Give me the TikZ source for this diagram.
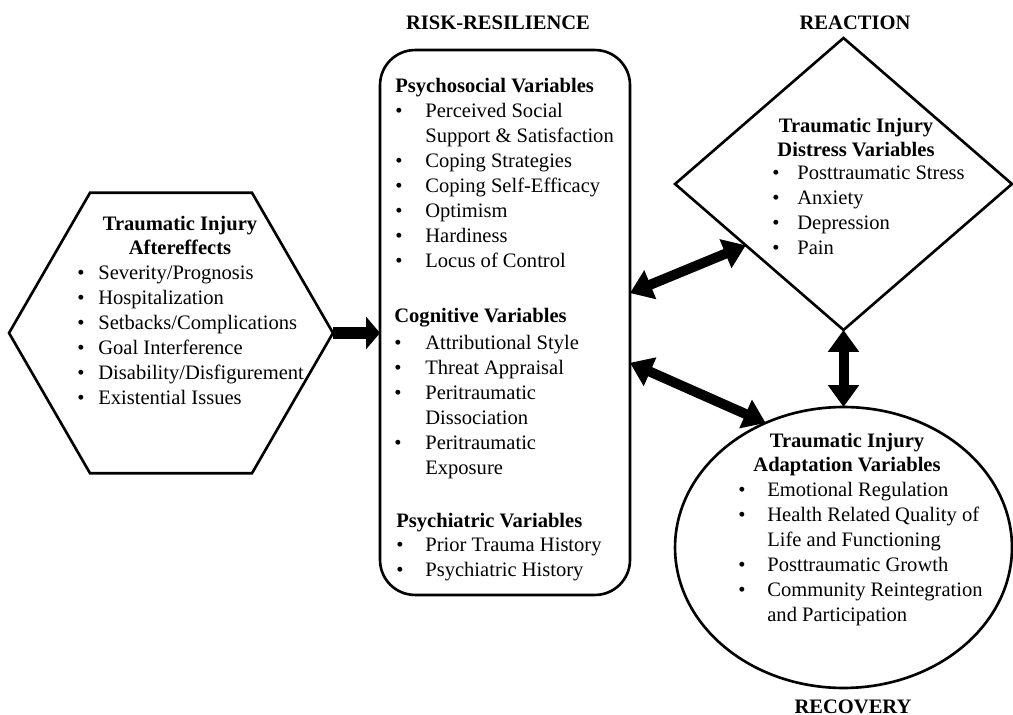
\documentclass[tikz,border=0pt]{standalone}
\usepackage{fontspec}
\setmainfont{Liberation Serif}
\usetikzlibrary{arrows.meta}
\usetikzlibrary{shapes,positioning,calc}
\tikzset{>={Triangle[length=0.44cm,width=0.6cm]}}
\tikzset{
  shp/.style={draw,line width=1.5pt,inner sep=0pt,outer sep=0pt},
  txt/.style={inner sep=0pt,font=\fontsize{11.7}{14.2}\selectfont},
  hdr/.style={inner sep=0pt,font=\fontsize{11.7}{14.2}\selectfont\bfseries,align=center},
  bigarrow/.style={<->,line width=0.2cm}
}
\newcommand{\blist}[2]{\begin{tabular}[t]{@{}p{#1}@{}l@{}}#2\end{tabular}}
\newcommand{\hd}[1]{\multicolumn{2}{@{}l@{}}{\bfseries #1}}

\begin{document}
\begin{tikzpicture}[x=0.02cm,y=-0.02cm]
    \useasboundingbox (0,0) rectangle (1013,715);
    % shapes
    \node[shp,regular polygon,regular polygon sides=6,minimum size=6.48cm] (hex) at (171,333) {};
    \node[shp,rectangle,rounded corners=0.7cm,minimum width=5cm,minimum height=10.9cm] (risk) at (505,322.5) {};
    \node[shp,diamond,minimum width=6.74cm,minimum height=5.84cm] (distress) at (843.5,184) {};
    \node[shp,ellipse,minimum width=6.74cm,minimum height=5.62cm] (adapt) at (843.5,547.5) {};
    % titles
    \node[hdr,anchor=base] (riskttl) at (498,30) {RISK-RESILIENCE};
    \node[hdr,anchor=base] (reactttl) at (855,30) {REACTION};
    \node[hdr,anchor=base] (recovttl) at (853,713) {RECOVERY};
    % aftereffects (base = last line)
    \node[hdr,anchor=base] (hexhd) at (180,255) {Traumatic Injury\\Aftereffects};
    \node[txt,anchor=base west] (hexlist) at (77,280) {\blist{0.42cm}{
      \textbullet & Severity/Prognosis\\
      \textbullet & Hospitalization\\
      \textbullet & Setbacks/Complications\\
      \textbullet & Goal Interference\\
      \textbullet & Disability/Disfigurement\\
      \textbullet & Existential Issues}};
    % risk-resilience
    \node[txt,anchor=base west] (psysoc) at (395,93) {\blist{0.6cm}{
      \hd{Psychosocial Variables}\\
      \textbullet & Perceived Social\\
      & Support \& Satisfaction\\
      \textbullet & Coping Strategies\\
      \textbullet & Coping Self-Efficacy\\
      \textbullet & Optimism\\
      \textbullet & Hardiness\\
      \textbullet & Locus of Control}};
    \node[txt,anchor=base west] (cogn) at (394,323) {\blist{0.62cm}{
      \hd{Cognitive Variables}\\[1pt]
      \textbullet & Attributional Style\\
      \textbullet & Threat Appraisal\\
      \textbullet & Peritraumatic\\
      & Dissociation\\
      \textbullet & Peritraumatic\\
      & Exposure}};
    \node[txt,anchor=base west] (psych) at (396,527) {\blist{0.58cm}{
      \hd{Psychiatric Variables}\\
      \textbullet & Prior Trauma History\\
      \textbullet & Psychiatric History}};
    % reaction
    \node[hdr,anchor=base] (disthd) at (856,157) {Traumatic Injury\\Distress Variables};
    \node[txt,anchor=base west] (distlist) at (772,180) {\blist{0.5cm}{
      \textbullet & Posttraumatic Stress\\
      \textbullet & Anxiety\\
      \textbullet & Depression\\
      \textbullet & Pain}};
    % recovery
    \node[hdr,anchor=base] (adapthd) at (847,472) {Traumatic Injury\\Adaptation Variables};
    \node[txt,anchor=base west] (adaptlist) at (738,497) {\blist{0.58cm}{
      \textbullet & Emotional Regulation\\
      \textbullet & Health Related Quality of\\
      & Life and Functioning\\
      \textbullet & Posttraumatic Growth\\
      \textbullet & Community Reintegration\\
      & and Participation}};
    % arrows
    \draw[line width=0.24cm,-{Triangle[length=0.28cm,width=0.64cm]}] (hex.east) -- (hex.east -| risk.west);
    \draw[bigarrow] ($(risk.north east)!0.446!(risk.south east)$) -- ($(distress.west)!0.42!(distress.south)$);
    \draw[bigarrow] ($(risk.north east)!0.574!(risk.south east)$) -- (adapt.122);
    \draw[bigarrow] (distress.south) -- (adapt.north);
\end{tikzpicture}
\end{document}
